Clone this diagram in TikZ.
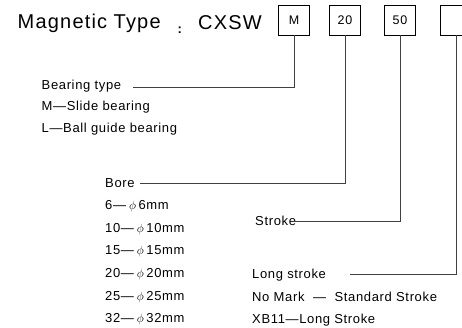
\documentclass[tikz,border=0pt]{standalone}
\usepackage{fontspec}
\setmainfont{Liberation Sans}
\newfontfamily\lsp[LetterSpace=5]{Liberation Sans}
\newfontfamily\tsp[LetterSpace=6]{Liberation Sans}
\begin{document}
\begin{tikzpicture}[x=1pt,y=-1pt,
  lbl/.style={anchor=base west,inner sep=0pt,font=\lsp\fontsize{13}{15}\selectfont},
  ttl/.style={anchor=base west,inner sep=0pt,font=\tsp\fontsize{20}{24}\selectfont},
  codebox/.style={draw=black,line width=0.9pt,minimum width=31.5pt,minimum height=29.5pt,inner sep=0pt,font=\lsp\fontsize{12.5}{14}\selectfont},
  conn/.style={draw=black!75,line width=1pt}]
\useasboundingbox (0,0) rectangle (462,327);
% title
\node[ttl] (title) at (17.5,28.8) {Magnetic\hspace{6.5pt}Type};
\node[anchor=base west,inner sep=0pt,font=\bfseries\fontsize{13}{15}\selectfont] (colon) at (177.5,33) {:};
\node[ttl] (model) at (198,29.5) {CXSW};
% code boxes
\node[codebox] (bM) at (294,20.2) {M};
\node[codebox] (b20) at (345,20.2) {20};
\node[codebox] (b50) at (400,20.2) {50};
\node[codebox] (bX) at (456,20.2) {};
% bearing type
\node[lbl] (bear) at (41.5,89) {Bearing type};
\node[lbl] (bearM) at (41.5,110.7) {M—Slide bearing};
\node[lbl] (bearL) at (41.5,132.5) {L—Ball guide bearing};
% bore
\node[lbl] (bore) at (105,187) {Bore};
\node[lbl] (bore6) at (105,209.6) {6—\kern3pt$\phi$\kern2.5pt6mm};
\node[lbl] (bore10) at (105,232.2) {10—\kern3pt$\phi$\kern2.5pt10mm};
\node[lbl] (bore15) at (105,254.8) {15—\kern3pt$\phi$\kern2.5pt15mm};
\node[lbl] (bore20) at (105,277.4) {20—\kern3pt$\phi$\kern2.5pt20mm};
\node[lbl] (bore25) at (105,300) {25—\kern3pt$\phi$\kern2.5pt25mm};
\node[lbl] (bore32) at (105,322.6) {32—\kern3pt$\phi$\kern2.5pt32mm};
% stroke
\node[lbl] (stroke) at (255,225) {Stroke};
% long stroke
\node[lbl] (long) at (252,278.3) {Long stroke};
\node[lbl] (longN) at (252,301) {No Mark \ — \ Standard Stroke};
\node[lbl] (longX) at (252,323.5) {XB11—Long Stroke};
% connectors
\coordinate (eBear) at (133,87.3);
\coordinate (eBore) at (140,183.3);
\coordinate (eStroke) at (293,221);
\coordinate (eLong) at (350,274.5);
\draw[conn] (bM.south) |- (eBear);
\draw[conn] (b20.south) |- (eBore);
\draw[conn] (b50.south) |- (eStroke);
\draw[conn] (bX.south) |- (eLong);
\end{tikzpicture}
\end{document}
